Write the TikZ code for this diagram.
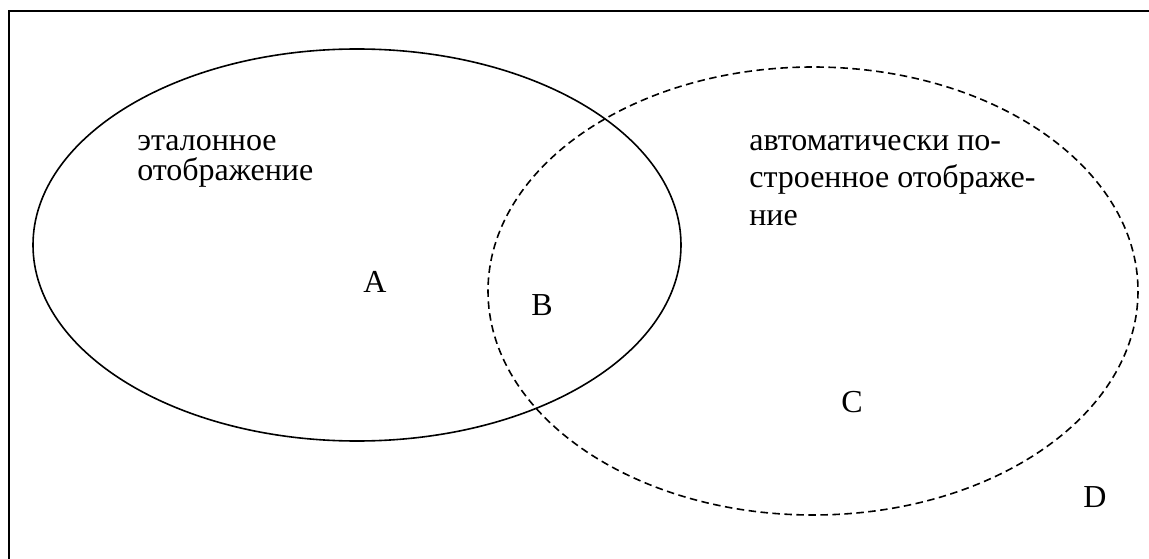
\documentclass[tikz,border=0pt]{standalone}
\usepackage{fontspec}
\setmainfont{Liberation Serif}
\newfontfamily\rufont[Script=Cyrillic]{Liberation Serif}
\usepackage{tikz}
\usetikzlibrary{positioning}

\begin{document}
\begin{tikzpicture}[x=1pt,y=-1pt,semithick]
	\tikzstyle{lbl}=[inner sep=0pt,anchor=base,font=\fontsize{32}{32}\selectfont]
	\tikzstyle{txt}=[inner sep=0pt,anchor=base west,align=left]
	\useasboundingbox (0,0) rectangle (1149,559);
	\clip (0,0) rectangle (1149,559);
	\draw[line width=2pt] (9,11) rectangle (1160,570);
	\draw[line width=1.6pt] (357,245) ellipse [x radius=324,y radius=196];
	\draw[line width=1.6pt,dash pattern=on 7.5pt off 4.5pt] (813,291) ellipse [x radius=325,y radius=224];
	% base = last line of the text
	\node[txt,font=\rufont\fontsize{32}{30}\selectfont] (ref) at (137,180) {эталонное\\отображение};
	\node[txt,font=\rufont\fontsize{32}{37.5}\selectfont] (auto) at (749,225) {автоматически по-\\строенное отображе-\\ние};
	\node[lbl] (A) at (375,292) {A};
	\node[lbl] (B) at (542,315) {B};
	\node[lbl] (C) at (852,412) {C};
	\node[lbl] (D) at (1095,507) {D};
\end{tikzpicture}
\end{document}
